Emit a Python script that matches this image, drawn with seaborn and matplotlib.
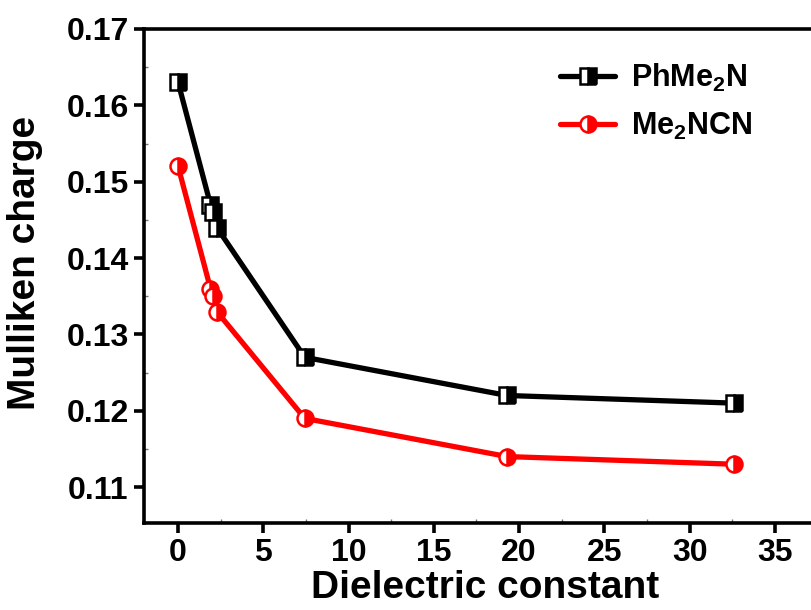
import numpy as np
import pandas as pd
import matplotlib
matplotlib.use("Agg")
import matplotlib.pyplot as plt
import seaborn as sns
from matplotlib.ticker import MultipleLocator, FormatStrFormatter

# dielectric constant of the solvent (0 = gas phase)
dielectric = [0.0, 1.9, 2.02, 2.27, 7.43, 19.3, 32.6]
charge_phme2n = [0.163, 0.147, 0.146, 0.144, 0.127, 0.122, 0.121]
charge_me2ncn = [0.152, 0.136, 0.135, 0.133, 0.119, 0.114, 0.113]
series_names = ["PhMe$_\\mathbf{2}$N", "Me$_\\mathbf{2}$NCN"]
series_colors = ["black", "red"]
series_markers = ["s", "o"]

sns.set_theme(style="ticks")
plt.rcParams["font.family"] = ["Liberation Sans", "DejaVu Sans"]
plt.rcParams["font.weight"] = "bold"
plt.rcParams["mathtext.fontset"] = "custom"
plt.rcParams["mathtext.rm"] = "Liberation Sans:bold"
plt.rcParams["mathtext.bf"] = "Liberation Sans:bold"
for key in ["text.color", "axes.labelcolor", "xtick.color", "ytick.color"]:
    plt.rcParams[key] = "black"

fig = plt.figure(figsize=(8.11, 6.10), dpi=100)
# axes run off the right edge of the picture, as in the original
ax = fig.add_axes([144 / 811, 1 - 523 / 610, 682 / 811, 494 / 610])

for vals, name, col, mk in zip([charge_phme2n, charge_me2ncn], series_names,
                               series_colors, series_markers):
    df = pd.DataFrame({"x": dielectric, "y": vals})
    sns.lineplot(data=df, x="x", y="y", ax=ax, color=col, lw=3.8,
                 marker=mk, markersize=11.5, fillstyle="right",
                 markerfacecoloralt="white", markeredgecolor=col,
                 markeredgewidth=1.8, label=name)

ax.set_xlim(-2, 38)
ax.set_ylim(0.1053, 0.17)
ax.xaxis.set_major_locator(MultipleLocator(5))
ax.xaxis.set_minor_locator(MultipleLocator(2.5))
ax.yaxis.set_major_locator(MultipleLocator(0.01))
ax.yaxis.set_minor_locator(MultipleLocator(0.005))
ax.yaxis.set_major_formatter(FormatStrFormatter("%.2f"))

for side in ["left", "bottom", "top"]:
    ax.spines[side].set_linewidth(2.6)
    ax.spines[side].set_color("black")
ax.spines["right"].set_visible(False)

ax.tick_params(which="major", direction="out", length=7, width=2.6,
               labelsize=23, color="black", pad=4)
ax.tick_params(which="minor", direction="in", length=3, width=1,
               color="#777777")
ax.tick_params(top=False, right=False, which="both")
for lab in ax.get_xticklabels() + ax.get_yticklabels():
    lab.set_fontweight("bold")

ax.set_xlabel("Dielectric constant", fontsize=28, fontweight="bold", labelpad=1)
ax.set_ylabel("Mulliken charge", fontsize=28, fontweight="bold")
ax.yaxis.set_label_coords(-0.148, 0.526)

ax.legend(loc="upper left", bbox_to_anchor=(0.57, 0.989), frameon=False,
          handlelength=1.8, labelspacing=0.55, handletextpad=0.5,
          prop={"weight": "bold", "size": 22})

fig.savefig("out.png", dpi=100)
